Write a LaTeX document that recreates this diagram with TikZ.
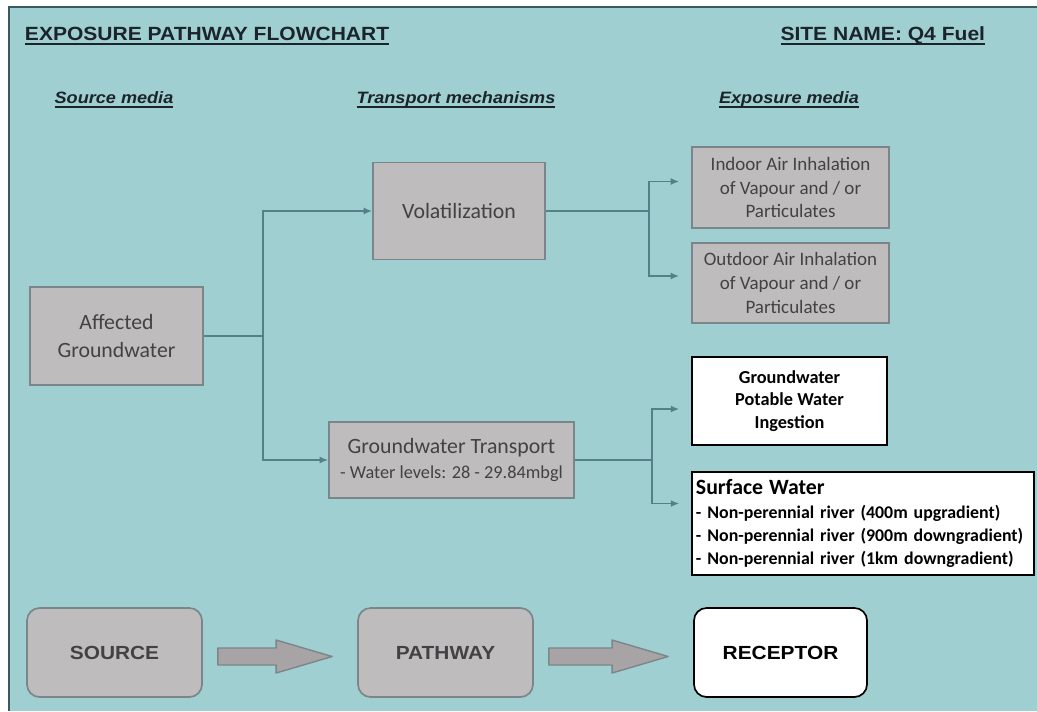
\documentclass[tikz,border=0pt]{standalone}
\usepackage{fontspec}
\setmainfont{Carlito}
\newfontfamily\headfont[FakeStretch=1.1]{Liberation Sans}
\usetikzlibrary{arrows.meta, positioning, calc}

% heading text with a heavier underline
\newsavebox{\ulbox}
\newcommand{\ulhead}[1]{\sbox{\ulbox}{#1}\rlap{\usebox{\ulbox}}\rule[-2.8pt]{\wd\ulbox}{1.1pt}}

\definecolor{sheet}{RGB}{160,207,209}
\definecolor{sheetedge}{RGB}{60,88,96}
\definecolor{boxgrey}{RGB}{191,188,189}
\definecolor{boxedge}{RGB}{122,134,137}
\definecolor{linkcol}{RGB}{86,128,136}
\definecolor{greytext}{RGB}{66,66,68}
\definecolor{inktext}{RGB}{26,36,42}
\definecolor{arrowgrey}{RGB}{168,164,166}

\tikzset{
  media box/.style={
    rectangle, draw=boxedge, line width=1.2pt, fill=boxgrey,
    text=greytext, align=center, inner sep=2pt
  },
  receptor box/.style={
    rectangle, draw=black, line width=1.1pt, fill=white,
    text=black, align=center, inner sep=2pt
  },
  spr box/.style={
    rectangle, rounded corners=9pt, draw=boxedge, line width=1.2pt,
    fill=boxgrey, text=greytext,
    minimum width=4.375cm, minimum height=2.225cm,
    font=\headfont\bfseries\fontsize{13.5}{16}\selectfont
  },
  link/.style={draw=linkcol, line width=1.1pt},
  link arrow/.style={link, -{Latex[length=6pt,width=5pt]}},
  block arrow/.style={draw=boxedge, line width=1pt, fill=arrowgrey, line join=round},
  sheet head/.style={font=\headfont\bfseries\fontsize{13.6}{16}\selectfont, text=inktext},
  column head/.style={font=\headfont\bfseries\itshape\fontsize{11.7}{14}\selectfont, text=inktext}
}

% fat grey arrow between two of the bottom boxes
\newcommand{\blockarrow}[2]{%
  \draw[block arrow] ($(#1.east)+(15,-4.5)$) -- ($(#2.west)+(-81,-4.5)$)
    -- ($(#2.west)+(-81,-12.5)$) -- ($(#2.west)+(-25,4)$)
    -- ($(#2.west)+(-81,20.5)$) -- ($(#2.west)+(-81,12.5)$)
    -- ($(#1.east)+(15,12.5)$) -- cycle;}

\begin{document}
\begin{tikzpicture}[x=0.025cm, y=-0.025cm]
  \useasboundingbox (0,0) rectangle (1037,711);
  \fill[white] (0,0) rectangle (1037,711);
  \fill[sheet] (9,7) rectangle (1037,711);
  \draw[sheetedge, line width=1.4pt] (9,711) -- (9,7) -- (1037,7);

  % headings
  \node (title) [sheet head, anchor=west] at (20,36) {\ulhead{EXPOSURE PATHWAY FLOWCHART}};
  \node (site) [sheet head, anchor=east] at (990,36) {\ulhead{SITE NAME: Q4 Fuel}};
  \node (hsrc) [column head] at (114,100) {\ulhead{Source media}};
  \node (htrn) [column head] at (456,100) {\ulhead{Transport mechanisms}};
  \node (hexp) [column head] at (789,100) {\ulhead{Exposure media}};

  % source, transport and exposure boxes
  \node (affgw) [media box, minimum width=4.325cm, minimum height=2.45cm,
    font=\fontsize{15.5}{19.5}\selectfont] at (116.5,336) {Affected\\Groundwater};
  \node (volat) [media box, minimum width=4.3cm, minimum height=2.425cm,
    font=\fontsize{15.5}{19.5}\selectfont] at (459,211) {Volatilization};
  \node (gwtrans) [media box, minimum width=6.125cm, minimum height=1.9cm,
    font=\fontsize{15.5}{18}\selectfont] at (451.5,460)
    {Groundwater Transport\\{\fontsize{13}{15}\selectfont - Water levels: 28 - 29.84mbgl}};
  \node (indoor) [media box, minimum width=4.925cm, minimum height=2.025cm,
    font=\fontsize{13.5}{17}\selectfont] at (790.5,187.5)
    {Indoor Air Inhalation\\of Vapour and / or\\Particulates};
  \node (outdoor) [media box, minimum width=4.925cm, minimum height=2cm,
    font=\fontsize{13.5}{17}\selectfont] at (790.5,283)
    {Outdoor Air Inhalation\\of Vapour and / or\\Particulates};
  \node (potable) [receptor box, minimum width=4.875cm, minimum height=2.2cm,
    font=\bfseries\fontsize{13}{16}\selectfont] at (789.5,401)
    {Groundwater\\Potable Water\\Ingestion};
  \node (surface) [receptor box, minimum width=8.55cm, minimum height=2.575cm,
    align=left, text width=8.35cm, font=\bfseries\fontsize{12.7}{16.4}\selectfont] at (863,523.5)
    {{\fontsize{15.5}{18}\selectfont Surface Water}\\
     - Non-perennial river (400m upgradient)\\
     - Non-perennial river (900m downgradient)\\
     - Non-perennial river (1km downgradient)};

  % source - pathway - receptor strip
  \node (src) [spr box] at (114.5,652.5) {SOURCE};
  \node (path) [spr box] at (445.5,652.5) {PATHWAY};
  \node (rec) [spr box, fill=white, draw=black, text=black, minimum width=4.325cm] at (780.5,652.5) {RECEPTOR};

  % connectors
  \draw[link] (affgw.east) -- ++(59,0) coordinate (gsplit);
  \draw[link arrow] (gsplit) |- (volat.west);
  \draw[link arrow] (gsplit) |- (gwtrans.west);

  \draw[link] (volat.east) -- ++(103,0) coordinate (vsplit);
  \draw[link arrow] (vsplit) |- ($(indoor.west)+(-12,-6)$);
  \draw[link arrow] (vsplit) |- ($(outdoor.west)+(-12,-7)$);

  \draw[link] (gwtrans.east) -- ++(77,0) coordinate (tsplit);
  \draw[link arrow] (tsplit) |- ($(potable.west)+(-12,8)$);
  \draw[link arrow] (tsplit) |- ($(surface.west)+(-12,-20)$);

  \blockarrow{src}{path}
  \blockarrow{path}{rec}
\end{tikzpicture}
\end{document}
